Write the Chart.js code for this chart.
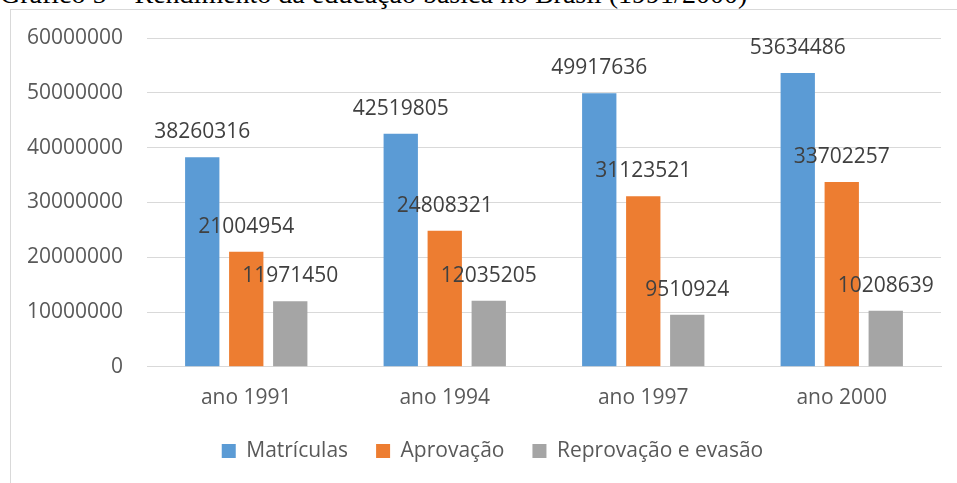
<!DOCTYPE html>
<html lang="pt">
<head>
<meta charset="UTF-8">
<title>Gráfico 5</title>
<script src="https://cdn.jsdelivr.net/npm/chart.js@4"></script>
<style>
    html, body { margin: 0; padding: 0; background: #fff; width: 957px; height: 483px; overflow: hidden; position: relative; }
    #titulo {
        position: absolute; left: 0; top: -20px; white-space: nowrap;
        font-family: "Liberation Serif", "Times New Roman", serif; font-size: 28px; line-height: 28px; color: #000;
    }
    #moldura {
        position: absolute; left: 10px; top: 9px; width: 1000px; height: 600px;
        border-left: 1px solid #d9d9d9; border-top: 1px solid #d9d9d9;
    }
    #grafico { position: absolute; left: 0; top: 0; }
</style>
</head>
<body>
<div id="titulo">Gráfico 5 – Rendimento da educação básica no Brasil (1991/2000)</div>
<div id="moldura"></div>
<canvas id="grafico" width="957" height="483"></canvas>
<script>
const anos = ["ano 1991", "ano 1994", "ano 1997", "ano 2000"];
const matriculas = [38260316, 42519805, 49917636, 53634486];
const aprovacao = [21004954, 24808321, 31123521, 33702257];
const reprovacaoEvasao = [11971450, 12035205, 9510924, 10208639];
const ticksY = [0, 10000000, 20000000, 30000000, 40000000, 50000000, 60000000];

const cores = ["#5B9BD5", "#ED7D31", "#A5A5A5"];
const fonte = '"Open Sans", sans-serif';

// rótulos de valor em cima de cada barra
const rotulos = {
    id: "rotulos",
    afterDatasetsDraw(chart) {
        const ctx = chart.ctx;
        ctx.save();
        ctx.font = "21px " + fonte;
        ctx.fillStyle = "#404040";
        ctx.textAlign = "center";
        ctx.textBaseline = "middle";
        chart.data.datasets.forEach((ds, i) => {
            chart.getDatasetMeta(i).data.forEach((barra, j) => {
                ctx.fillText(String(ds.data[j]), barra.x, barra.y - 25);
            });
        });
        ctx.restore();
    }
};

// a legenda do Excel fica centrada na moldura toda, não só no canvas
const moverLegenda = {
    id: "moverLegenda",
    afterLayout(chart) {
        chart.legend.left += 22;
        chart.legend.right += 22;
    }
};

Chart.defaults.font.family = fonte;
Chart.defaults.font.size = 21;
Chart.defaults.color = "#595959";

new Chart(document.getElementById("grafico"), {
    type: "bar",
    data: {
        labels: anos,
        datasets: [
            { label: "Matrículas", data: matriculas, backgroundColor: cores[0] },
            { label: "Aprovação", data: aprovacao, backgroundColor: cores[1] },
            { label: "Reprovação e evasão", data: reprovacaoEvasao, backgroundColor: cores[2] }
        ]
    },
    options: {
        responsive: false,
        animation: false,
        events: [],
        datasets: { bar: { categoryPercentage: 0.665, barPercentage: 0.78 } },
        layout: { padding: { left: 0, right: 16, top: 38, bottom: 11.5 } },
        scales: {
            x: {
                grid: { display: false, tickLength: 16.5 },
                border: { color: "#d9d9d9", width: 1 },
                ticks: { padding: 2, color: "#595959" }
            },
            y: {
                min: 0,
                max: 60000000,
                afterBuildTicks: (s) => { s.ticks = ticksY.map(v => ({ value: v })); },
                afterFit: (s) => { s.width = 147; },
                grid: { color: "#d9d9d9", drawTicks: false },
                border: { display: false },
                ticks: { padding: 24, color: "#595959", callback: (v) => String(v) }
            }
        },
        plugins: {
            legend: {
                position: "bottom",
                labels: { boxWidth: 14, boxHeight: 14, padding: 28, color: "#595959" }
            },
            tooltip: { enabled: false },
            title: { display: false }
        }
    },
    plugins: [rotulos, moverLegenda]
});
</script>
</body>
</html>
